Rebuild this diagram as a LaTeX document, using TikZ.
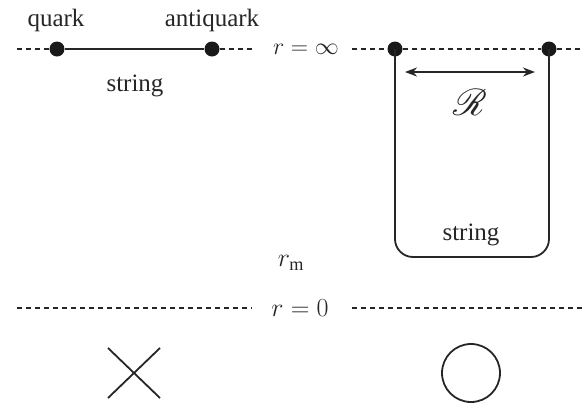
\RequirePackage{fix-cm}
\documentclass[tikz,border=0pt]{standalone}
\usepackage{fontspec}
\setmainfont{Liberation Serif}
\usepackage{mathrsfs}
\usepackage{graphicx}
\usetikzlibrary{arrows.meta}
\begin{document}
\begin{tikzpicture}[x=1pt,y=-1pt,
  dot/.style={circle,fill=black!90,inner sep=0pt,minimum size=15pt},
  lbl/.style={font=\fontsize{25}{28}\selectfont,inner sep=0pt,text=black!85},
  mth/.style={font=\fontsize{24}{28}\selectfont,inner sep=0pt,text=black!85},
  dsh/.style={line width=1.4pt,dash pattern=on 5pt off 4pt,black!85},
  sld/.style={line width=1.8pt,black!85}]
\useasboundingbox (0,0) rectangle (582,405);
% top row
\node[dot] (q) at (57,49) {};
\node[dot] (aq) at (212,49) {};
\node[dot] (d1) at (395,49) {};
\node[dot] (d2) at (549,49) {};
\node[mth] (rinf) at (306,49) {$r=\infty$};
\node[lbl,anchor=base] (ql) at (56,26) {quark};
\node[lbl,anchor=base] (aql) at (212,26) {antiquark};
\node[lbl,anchor=base] (s1) at (135,91) {string};
\coordinate (t0) at (17,49);
\coordinate (t1) at (253,49);
\coordinate (t2) at (352,49);
\coordinate (t3) at (582,49);
\draw[dsh] (t0) -- (q);
\draw[sld] (q) -- (aq);
\draw[dsh] (aq) -- (t1);
\draw[dsh] (t2) -- (d1);
\draw[dsh] (d1) -- (d2);
\draw[dsh] (d2) -- (t3);
% U string
\coordinate (b1) at (395,257);
\coordinate (b2) at (549,257);
\draw[sld,rounded corners=18pt] (d1.center) -- (b1) -- (b2) -- (d2.center);
\node[lbl,anchor=base] (s2) at (471,240) {string};
% R arrow
\coordinate (a1) at (405,72);
\coordinate (a2) at (535,72);
\draw[sld,{Stealth[length=12pt,width=9pt]}-{Stealth[length=12pt,width=9pt]}] (a1) -- (a2);
\node[mth] (R) at (470,102) {\scalebox{1.5}{$\mathscr{R}$}};
% r_m
\node[mth,font=\fontsize{26}{30}\selectfont] (rm) at (291,263) {$r_{\mathrm{m}}$};
% bottom line
\node[mth,font=\fontsize{26}{30}\selectfont] (r0) at (300,308) {$r=0$};
\coordinate (u0) at (17,308);
\coordinate (u1) at (252,308);
\coordinate (u2) at (352,308);
\coordinate (u3) at (582,308);
\draw[dsh] (u0) -- (u1);
\draw[dsh] (u2) -- (u3);
% X and O
\coordinate (x1) at (108,348);
\coordinate (x2) at (160,398);
\coordinate (x3) at (108,398);
\coordinate (x4) at (160,348);
\draw[sld] (x1) -- (x2);
\draw[sld] (x3) -- (x4);
\node[draw=black!85,circle,line width=1.8pt,minimum size=58pt,inner sep=0pt] (O) at (471,373) {};
\end{tikzpicture}
\end{document}
